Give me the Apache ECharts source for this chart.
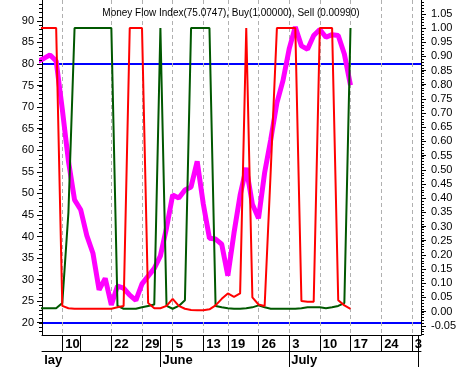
<!DOCTYPE html>
<html>
<head>
<meta charset="utf-8">
<script src="https://cdn.jsdelivr.net/npm/echarts@6/dist/echarts.min.js"></script>
<style>
  html, body { margin: 0; padding: 0; background: #fff; }
  #chart { width: 462px; height: 367px; }
</style>
</head>
<body>
<div id="chart"></div>
<script>
// one value per trading day, slot 0 sits just left of the plot
const mfi = [80.6, 81.3, 82.1, 80.7, 69.5, 57.5, 48.5, 46.2, 40.2, 36.1,
  27.6, 30.3, 24.1, 28.5, 28.0, 26.4, 25.2, 29.0, 30.8, 32.6,
  35.5, 42.0, 49.6, 48.9, 50.8, 51.5, 57.4, 47.5, 39.6, 39.4,
  38.2, 30.9, 40.8, 49.6, 55.9, 47.5, 44.2, 54.8, 62.5, 71.0,
  76.2, 83.5, 88.6, 84.2, 83.4, 86.6, 88.0, 86.2, 86.8, 86.6,
  82.3, 75.07];
const buy = [0.012, 0.012, 0.012, 0.012, 0.03, 0.35, 1, 1, 1, 1,
  1, 1, 1, 0.02, 0.01, 0.01, 0.01, 0.015, 0.02, 0.025,
  1, 0.02, 0.01, 0.02, 0.04, 1, 1, 1, 1, 0.02,
  0.015, 0.012, 0.01, 0.01, 0.012, 0.015, 0.022, 0.015, 0.01, 0.01,
  0.01, 0.01, 0.01, 0.012, 0.015, 0.015, 0.015, 0.012, 0.015, 0.02,
  0.03, 1];
const sell = [1, 1, 1, 1, 0.02, 0.012, 0.01, 0.01, 0.01, 0.01,
  0.01, 0.01, 0.01, 0.015, 0.02, 1, 1, 1, 0.03, 0.012,
  0.012, 0.02, 0.045, 0.02, 0.01, 0.006, 0.005, 0.005, 0.008, 0.022,
  0.045, 0.064, 0.052, 0.064, 1, 0.05, 0.025, 0.02, 0.5, 1,
  1, 1, 1, 0.037, 0.035, 0.035, 1, 1, 1, 0.04,
  0.022, 0.0099];

// x axis: slots of the tick marks and their labels
const daySlots = [4, 12, 17, 22, 27, 31, 36, 41, 46, 51, 56, 61];
const dayLabels = ['10', '22', '29', '5', '13', '19', '26', '3', '10', '17', '24', '3'];
const dayBoxes = [4, 7, 12, 17, 20, 22, 27, 31, 36, 41, 46, 51, 56, 61, 62];
const monthSlots = [0.72, 20, 41];
const monthLabels = ['lay', 'June', 'July'];
const monthBoxes = [20, 41, 62];

// y axes ticks
const mfiTicks = [20, 25, 30, 35, 40, 45, 50, 55, 60, 65, 70, 75, 80, 85, 90];
const levelLines = [20, 80];
const ratioTicks = [-5, 0, 5, 10, 15, 20, 25, 30, 35, 40, 45, 50, 55, 60, 65, 70, 75, 80, 85, 90, 95, 100, 105].map(v => v / 100);

const title = 'Money Flow Index(75.0747), Buy(1.00000), Sell (0.00990)';

const FONT = 'Liberation Sans';
const mfiMin = 17.15, mfiMax = 94.84;
const rMin = -0.0825, rMax = 1.0987;
const xMin = 0.69, xMax = 62.5;

const mfiMinor = [];
for (let v = 18; v <= 94; v++) mfiMinor.push(v);
const ratioMinor = [];
for (let v = -8; v <= 109; v++) ratioMinor.push(v / 100);

const chart = echarts.init(document.getElementById('chart'), null, { renderer: 'canvas' });

const toPairs = arr => arr.map((v, i) => [i, v]);

// small tick marks drawn just outside an axis line
const tickSeries = (yAxisIndex, xAt, values, dir) => ({
  type: 'custom', xAxisIndex: 0, yAxisIndex, clip: false, silent: true, z: 6,
  data: values.map(v => [xAt, v]),
  encode: { x: 0, y: 1 },
  renderItem: (params, api) => {
    const p = api.coord([api.value(0), api.value(1)]);
    const x = Math.round(p[0]);
    const y = Math.round(p[1]) + 0.5;
    return {
      type: 'line',
      shape: { x1: x, y1: y, x2: x + dir * 3, y2: y },
      style: { stroke: '#000', lineWidth: 1 }
    };
  }
});

chart.setOption({
  animation: false,
  backgroundColor: '#fff',
  title: {
    text: title,
    left: 'center',
    top: 3,
    textStyle: { fontFamily: FONT, fontSize: 10, fontWeight: 'normal', color: '#000' }
  },
  grid: { left: 42, right: 41, top: 0, bottom: 32, containLabel: false },
  xAxis: [
    {
      type: 'value', min: xMin, max: xMax, position: 'bottom',
      axisLine: { show: true, onZero: false, lineStyle: { color: '#000', width: 1 } },
      axisTick: { show: true, customValues: dayBoxes, length: 16, lineStyle: { color: '#000' } },
      axisLabel: {
        customValues: daySlots, align: 'left', margin: 3, padding: [0, 0, 0, 3],
        fontFamily: FONT, fontSize: 13, fontWeight: 'bold', color: '#000',
        formatter: v => dayLabels[daySlots.indexOf(Math.round(v))] || ''
      },
      splitLine: { show: false }
    },
    {
      type: 'value', min: xMin, max: xMax, position: 'bottom', offset: 16,
      axisLine: { show: true, onZero: false, lineStyle: { color: '#000', width: 1 } },
      axisTick: { show: true, customValues: monthBoxes, length: 16, lineStyle: { color: '#000' } },
      axisLabel: {
        customValues: monthSlots, align: 'left', margin: 3, padding: [0, 0, 0, 2],
        fontFamily: FONT, fontSize: 13, fontWeight: 'bold', color: '#000',
        formatter: v => {
          let k = 0;
          monthSlots.forEach((m, i) => { if (Math.abs(m - v) < 0.5) k = i; });
          return monthLabels[k];
        }
      },
      splitLine: { show: false }
    },
    {
      // dashed weekly grid
      type: 'value', min: xMin, max: xMax, position: 'top',
      axisLine: { show: false },
      axisTick: { show: false, customValues: daySlots },
      axisLabel: { show: false },
      splitLine: { show: true, lineStyle: { color: '#b0b0b0', type: [4, 3], width: 1 } }
    }
  ],
  yAxis: [
    {
      type: 'value', min: mfiMin, max: mfiMax, position: 'left',
      axisLine: { show: true, lineStyle: { color: '#000' } },
      axisTick: { show: true, customValues: mfiTicks, length: 5, lineStyle: { color: '#000' } },
      axisLabel: {
        customValues: mfiTicks, margin: 8,
        fontFamily: FONT, fontSize: 11, color: '#000',
        formatter: v => String(Math.round(v))
      },
      splitLine: { show: false }
    },
    {
      // blue 20 / 80 levels
      type: 'value', min: mfiMin, max: mfiMax, position: 'left',
      axisLine: { show: false },
      axisTick: { show: false, customValues: levelLines },
      axisLabel: { show: false },
      splitLine: { show: true, lineStyle: { color: '#0000ff', width: 2 } }
    },
    {
      type: 'value', min: rMin, max: rMax, position: 'right',
      axisLine: { show: true, lineStyle: { color: '#000' } },
      axisTick: { show: true, customValues: ratioTicks, length: 5, lineStyle: { color: '#000' } },
      axisLabel: {
        customValues: ratioTicks, margin: 10,
        fontFamily: FONT, fontSize: 11, color: '#000',
        formatter: v => v.toFixed(2)
      },
      splitLine: { show: false }
    }
  ],
  series: [
    {
      name: 'MFI', type: 'line', xAxisIndex: 0, yAxisIndex: 0,
      data: toPairs(mfi), showSymbol: false, z: 3,
      lineStyle: { color: '#ff00ff', width: 5 }
    },
    {
      name: 'Buy', type: 'line', xAxisIndex: 0, yAxisIndex: 2,
      data: toPairs(buy), showSymbol: false, z: 4,
      lineStyle: { color: '#005800', width: 2 }
    },
    {
      name: 'Sell', type: 'line', xAxisIndex: 0, yAxisIndex: 2,
      data: toPairs(sell), showSymbol: false, z: 5,
      lineStyle: { color: '#ff0000', width: 2 }
    },
    tickSeries(0, xMin, mfiMinor, -1),
    tickSeries(2, xMax, ratioMinor, 1)
  ]
});
</script>
</body>
</html>
